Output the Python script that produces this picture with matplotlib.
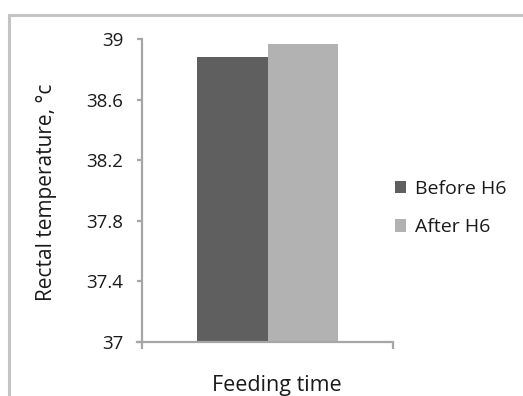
import matplotlib.pyplot as plt
from matplotlib.lines import Line2D
from matplotlib.patches import Patch

# Rectal temperature before and after feeding H6
categories = ["Feeding time"]
series_names = ["Before H6", "After H6"]
before_h6 = [38.88]
after_h6 = [38.97]
y_ticks = [37, 37.4, 37.8, 38.2, 38.6, 39]
y_tick_labels = ["37", "37.4", "37.8", "38.2", "38.6", "39"]

colors = ["#5f5f5f", "#b2b2b2"]
axis_gray = "#a6a6a6"
text_color = "#1a1a1a"

plt.rcParams["font.family"] = ["Open Sans", "DejaVu Sans"]

W, H = 523, 396
fig = plt.figure(figsize=(W / 100, H / 100), dpi=100)
fig.patch.set_facecolor("white")

# outer chart border (only top and left edges fall inside the image)
fig.add_artist(Line2D([9 / W, 9 / W], [0, 1 - 15 / H], color="#c4c4c4", lw=2.2))
fig.add_artist(Line2D([9 / W, 1], [1 - 15 / H, 1 - 15 / H], color="#c4c4c4", lw=2.2))

ax = fig.add_axes([142 / W, 1 - 342 / H, 251 / W, 303 / H])

width = 0.28
ax.bar([-width / 2], before_h6, width=width, color=colors[0], label=series_names[0])
ax.bar([width / 2], after_h6, width=width, color=colors[1], label=series_names[1])

ax.set_ylim(37, 39)
ax.set_xlim(-0.5, 0.5)
ax.set_yticks(y_ticks)
ax.set_yticklabels(y_tick_labels, fontsize=13.5, color=text_color)
ax.set_xticks([-0.5, 0.5])
ax.set_xticklabels([])

for side in ["top", "right"]:
    ax.spines[side].set_visible(False)
for side in ["left", "bottom"]:
    ax.spines[side].set_color(axis_gray)
    ax.spines[side].set_linewidth(1.6)

ax.tick_params(axis="y", direction="out", length=3.6, width=1.6, color=axis_gray, pad=10)
ax.tick_params(axis="x", direction="out", length=5, width=1.6, color=axis_gray)

# x axis line reaches past the y axis, like the 37 tick
ax.plot([-0.52, -0.5], [37, 37], color=axis_gray, lw=1.6, clip_on=False)

fig.text(47 / W, 1 - 192 / H, "Rectal temperature, °c", fontsize=15,
         color=text_color, rotation=90, ha="center", va="center")
fig.text(277 / W, 1 - 391 / H, categories[0], fontsize=15.5, color=text_color,
         ha="center", va="baseline")

handles = [Patch(facecolor=c, edgecolor="none") for c in colors]
fig.legend(handles, series_names, loc="center left", bbox_to_anchor=(395 / W, 1 - 208 / H),
           frameon=False, fontsize=14, handlelength=0.57, handleheight=0.6,
           handletextpad=0.46, labelspacing=1.05, borderpad=0, borderaxespad=0,
           labelcolor=text_color)

fig.savefig("out.png", dpi=100)
